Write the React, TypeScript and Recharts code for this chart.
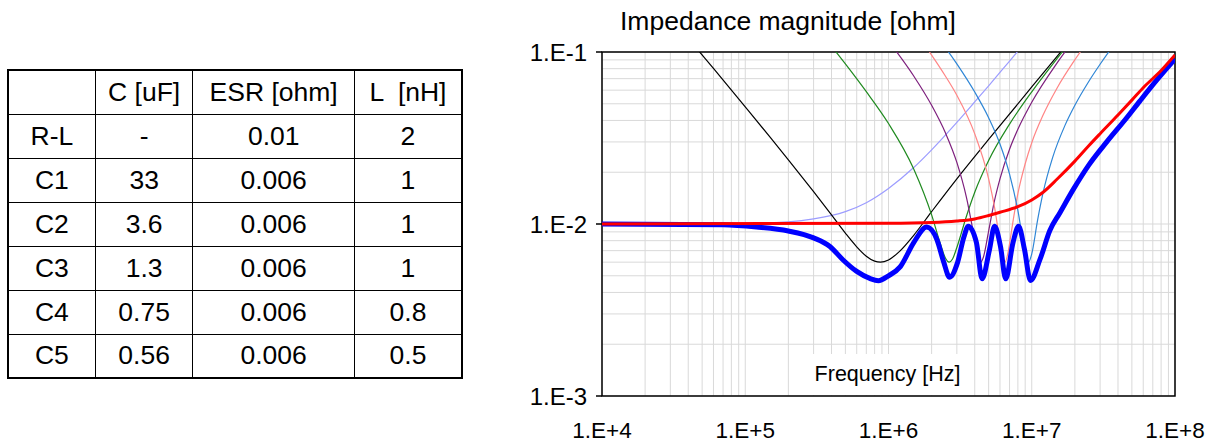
import React from 'react';
import { CartesianGrid, Line, LineChart, ReferenceArea, XAxis, YAxis } from 'recharts';

// table on the left
const tableHead = ['', 'C [uF]', 'ESR [ohm]', 'L  [nH]'];
const partNames = ['R-L', 'C1', 'C2', 'C3', 'C4', 'C5'];
const capValues = ['-', '33', '3.6', '1.3', '0.75', '0.56'];
const esrValues = ['0.01', '0.006', '0.006', '0.006', '0.006', '0.006'];
const indValues = ['2', '1', '1', '1', '0.8', '0.5'];

// axes
const xTicks = [1e4, 1e5, 1e6, 1e7, 1e8];
const yTicks = [0.001, 0.01, 0.1];

// curves (frequency in Hz, impedance in ohm)
const fRL = [1e4, 1e5, 2e5, 3e5, 5e5, 7e5, 1e6, 1.5e6, 2e6, 3e6, 4e6, 5e6, 7e6, 1e7];
const zRL = [0.01, 0.0101, 0.0103, 0.0107, 0.0118, 0.0133, 0.0161, 0.0213, 0.027, 0.039, 0.0513, 0.0636, 0.0886, 0.126];

const fC1 = [3e4, 4e4, 6e4, 1e5, 1.5e5, 2e5, 3e5, 4e5, 5e5, 6e5, 7e5, 8e5, 8.8e5, 1e6, 1.2e6, 1.5e6, 2e6, 3e6, 5e6, 1e7, 2e7];
const zC1 = [0.161, 0.12, 0.0802, 0.048, 0.0318, 0.0236, 0.0154, 0.0113, 0.00885, 0.00737, 0.0065, 0.00608, 0.006, 0.00618, 0.00696, 0.0086, 0.0118, 0.0183, 0.031, 0.0626, 0.1257];

const fC2 = [3e5, 4e5, 5e5, 7e5, 1e6, 1.5e6, 2e6, 2.3e6, 2.5e6, 2.65e6, 2.8e6, 3e6, 3.5e6, 4e6, 5e6, 7e6, 1e7, 1.5e7, 2e7];
const zC2 = [0.1455, 0.108, 0.0853, 0.0588, 0.0384, 0.0209, 0.0113, 0.0077, 0.00632, 0.006, 0.00626, 0.0073, 0.0111, 0.0153, 0.0234, 0.0381, 0.0587, 0.0915, 0.1235];

const fC3 = [8e5, 1e6, 1.5e6, 2e6, 2.5e6, 3e6, 3.5e6, 4e6, 4.2e6, 4.4e6, 4.6e6, 5e6, 5.5e6, 6e6, 7e6, 8e6, 1e7, 1.5e7, 2e7];
const zC3 = [0.148, 0.116, 0.0725, 0.049, 0.0338, 0.0228, 0.0143, 0.0081, 0.0066, 0.006, 0.00643, 0.0091, 0.0137, 0.0183, 0.0272, 0.0355, 0.051, 0.0862, 0.1196];

const fC4 = [1.6e6, 2e6, 2.5e6, 3e6, 4e6, 5e6, 5.5e6, 6e6, 6.3e6, 6.5e6, 6.8e6, 7e6, 7.5e6, 8e6, 9e6, 1e7, 1.2e7, 1.5e7, 2e7, 2.5e7];
const zC4 = [0.1246, 0.096, 0.0723, 0.056, 0.0334, 0.0183, 0.0125, 0.0079, 0.0063, 0.006, 0.0067, 0.0077, 0.0111, 0.015, 0.0224, 0.0297, 0.043, 0.0616, 0.0901, 0.1172];

const fC5 = [2.2e6, 3e6, 4e6, 5e6, 6e6, 7e6, 8e6, 9e6, 9.5e6, 1e7, 1.1e7, 1.2e7, 1.4e7, 1.7e7, 2e7, 2.5e7, 3e7, 3.5e7, 4e7];
const zC5 = [0.1223, 0.0853, 0.0585, 0.0415, 0.0292, 0.0195, 0.012, 0.0068, 0.006, 0.0067, 0.0106, 0.0152, 0.0244, 0.0372, 0.049, 0.0674, 0.0849, 0.1019, 0.1186];

const fTotal = [1e4, 7e4, 1.2e5, 2e5, 3e5, 3.9e5, 4.8e5, 6e5, 7.4e5, 8.5e5, 1e6, 1.21e6, 1.5e6, 1.85e6, 2.18e6, 2.43e6, 2.67e6, 3.02e6, 3.36e6, 3.6e6, 4.11e6, 4.5e6, 5.07e6, 5.5e6, 6.05e6, 6.58e6, 7.4e6, 8.1e6, 8.9e6, 9.8e6, 1.14e7, 1.34e7, 1.57e7, 1.96e7, 2.5e7, 3.36e7, 4.5e7, 5.7e7, 7.5e7, 1e8];
const zTotal = [0.01, 0.0099, 0.0096, 0.0091, 0.0083, 0.0074, 0.0062, 0.0053, 0.00483, 0.00468, 0.005, 0.00565, 0.0078, 0.0096, 0.0081, 0.006, 0.0049, 0.0059, 0.0084, 0.0097, 0.0078, 0.0048, 0.0071, 0.0097, 0.0074, 0.0048, 0.0078, 0.0097, 0.0071, 0.0047, 0.0062, 0.0092, 0.0116, 0.016, 0.022, 0.0302, 0.0405, 0.052, 0.069, 0.091];

const fTarget = [1e4, 1e6, 2e6, 3e6, 4e6, 5e6, 6e6, 8e6, 1e7, 1.2e7, 1.5e7, 2e7, 2.5e7, 3e7, 4e7, 5e7, 6e7, 8e7, 1e8];
const zTarget = [0.01, 0.0101, 0.0102, 0.0104, 0.0107, 0.0112, 0.0117, 0.0126, 0.0138, 0.0153, 0.0182, 0.0232, 0.0285, 0.0335, 0.043, 0.0525, 0.062, 0.078, 0.096];

const pts = (f: number[], z: number[]) => f.map((v, i) => ({ f: v, z: z[i] }));

const thinCurves = [
  { name: 'R-L', data: pts(fRL, zRL), color: '#9c9cff' },
  { name: 'C1', data: pts(fC1, zC1), color: '#000000' },
  { name: 'C2', data: pts(fC2, zC2), color: '#1f8a1f' },
  { name: 'C3', data: pts(fC3, zC3), color: '#7d1f7d' },
  { name: 'C4', data: pts(fC4, zC4), color: '#ff8585' },
  { name: 'C5', data: pts(fC5, zC5), color: '#2f86d6' },
];

const decades = (lo: number, hi: number) => {
  const out: number[] = [];
  for (let e = lo; e < hi; e++) for (let m = 1; m < 10; m++) out.push(m * Math.pow(10, e));
  out.push(Math.pow(10, hi));
  return out;
};
const gridX = decades(4, 8);
const gridY = decades(-3, -1);

const fmtX = (v: number) => `1.E+${Math.round(Math.log10(v))}`;
const fmtY = (v: number) => `1.E${Math.round(Math.log10(v))}`;

const font = '"Liberation Sans", Arial, sans-serif';

const cell: React.CSSProperties = {
  border: '1.5px solid #000',
  textAlign: 'center',
  padding: 0,
  whiteSpace: 'pre',
};

export default function App() {
  return (
    <div style={{ position: 'absolute', left: 0, top: 0, width: 1210, height: 442, background: '#fff', fontFamily: font, color: '#000' }}>
      <table
        style={{ position: 'absolute', left: 7, top: 69, width: 456, height: 308, borderCollapse: 'collapse', fontSize: 26.5, border: '2px solid #000' }}>
        <colgroup>
          <col style={{ width: 88 }} />
          <col style={{ width: 98 }} />
          <col style={{ width: 162 }} />
          <col style={{ width: 108 }} />
        </colgroup>
        <tbody>
          <tr style={{ height: 44 }}>
            {tableHead.map((h, i) => (
              <td key={i} style={cell}>{h}</td>
            ))}
          </tr>
          {partNames.map((n, i) => (
            <tr key={n} style={{ height: 44 }}>
              <td style={cell}>{n}</td>
              <td style={cell}>{capValues[i]}</td>
              <td style={cell}>{esrValues[i]}</td>
              <td style={cell}>{indValues[i]}</td>
            </tr>
          ))}
        </tbody>
      </table>

      <div style={{ position: 'absolute', left: 620, top: 8, fontSize: 26.5, lineHeight: '26px', whiteSpace: 'nowrap' }}>
        Impedance magnitude [ohm]
      </div>

      <div style={{ position: 'absolute', left: 500, top: 0 }}>
        <LineChart width={710} height={442} margin={{ top: 52, right: 35, bottom: 0, left: 0 }}>
          <CartesianGrid stroke='#d9d9d9' strokeWidth={1} verticalValues={gridX} horizontalValues={gridY} />
          <XAxis
            dataKey='f'
            type='number'
            scale='log'
            domain={[1e4, 1e8]}
            allowDataOverflow
            ticks={xTicks}
            interval={0}
            tickFormatter={fmtX}
            height={46}
            axisLine={false}
            tickLine={false}
            tickSize={0}
            tickMargin={26}
            tick={{ fontSize: 22.5, fill: '#000', fontFamily: font }}
          />
          <XAxis
            xAxisId='top'
            orientation='top'
            type='number'
            scale='log'
            domain={[1e4, 1e8]}
            allowDataOverflow
            ticks={[1e5, 1e6, 1e7]}
            height={0}
            mirror
            tick={false}
            tickSize={6}
            axisLine={false}
            tickLine={{ stroke: '#000', strokeWidth: 1.5 }}
          />
          <YAxis
            type='number'
            scale='log'
            domain={[0.001, 0.1]}
            allowDataOverflow
            ticks={yTicks}
            interval={0}
            tickFormatter={fmtY}
            width={102}
            axisLine={false}
            tickSize={6}
            tickMargin={9}
            tickLine={{ stroke: '#000', strokeWidth: 1.5 }}
            tick={{ fontSize: 24, fill: '#000', fontFamily: font }}
          />
          <ReferenceArea x1={1e4} x2={1e8} y1={0.001} y2={0.1} fill='none' stroke='#000' strokeWidth={1.5} />
          {thinCurves.map((c) => (
            <Line
              key={c.name}
              data={c.data}
              dataKey='z'
              type='monotone'
              stroke={c.color}
              strokeWidth={1.2}
              dot={false}
              activeDot={false}
              isAnimationActive={false}
            />
          ))}
          <Line
            data={pts(fTotal, zTotal)}
            dataKey='z'
            type='monotone'
            stroke='#0000ff'
            strokeWidth={5}
            dot={false}
            activeDot={false}
            isAnimationActive={false}
          />
          <Line
            data={pts(fTarget, zTarget)}
            dataKey='z'
            type='monotone'
            stroke='#ff0000'
            strokeWidth={3}
            dot={false}
            activeDot={false}
            isAnimationActive={false}
          />
        </LineChart>
      </div>

      <div
        style={{ position: 'absolute', left: 811, top: 354, width: 153, height: 41, background: '#fff', fontSize: 21.5, lineHeight: '21px', paddingTop: 10, boxSizing: 'border-box', textAlign: 'center', whiteSpace: 'nowrap' }}>
        Frequency [Hz]
      </div>
    </div>
  );
}
